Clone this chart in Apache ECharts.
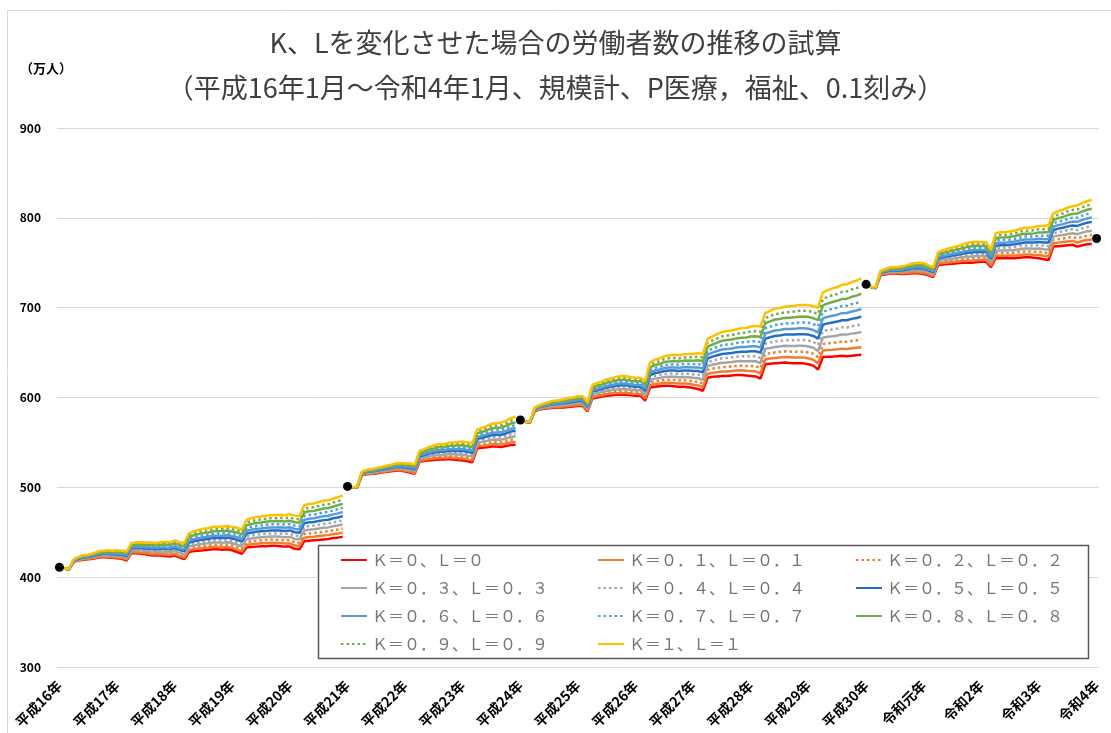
<!DOCTYPE html>
<html>
<head>
<meta charset="utf-8">
<title>K、Lを変化させた場合の労働者数の推移の試算</title>
<script src="https://cdn.jsdelivr.net/npm/echarts@6/dist/echarts.min.js"></script>
<style>
html, body { margin: 0; padding: 0; background: #fff; }
#chart { width: 1111px; height: 733px; }
</style>
</head>
<body>
<div id="chart"></div>
<script>
// 年ラベル（各年1月に表示）
const yearLabels = ['平成16年', '平成17年', '平成18年', '平成19年', '平成20年', '平成21年', '平成22年',
  '平成23年', '平成24年', '平成25年', '平成26年', '平成27年', '平成28年', '平成29年', '平成30年',
  '令和元年', '令和2年', '令和3年', '令和4年'];

const categories = [];
yearLabels.forEach(y => {
  for (let m = 1; m <= 12; m++) categories.push(y + m + '月');
});
categories.length = 217; // 平成16年1月～令和4年1月

// ベンチマーク（黒丸）
const benchmarkMonths = ['平成16年1月', '平成21年1月', '平成24年1月', '平成30年1月', '令和4年1月'];
const benchmarkValues = [411, 501, 575, 726, 777];

// 各系列の区間（ベンチマーク間で線を切る）
const segmentRanges = [[0, 59], [60, 95], [96, 167], [168, 215]];

// 万人, 平成16年1月～令和3年12月
const k0 = [
  411,409.5,408.5,417,418.5,419.5,420,420.5,421.5,422.5,422,421.5,421,420.5,418.5,427,426.5,426,425.5,424.5,424,424,423.5,423,424,422,420,428,429,429.5,430,430.5,431,431,430.5,431,430,428,426,433,433.5,434,434.5,434.5,435,435,434.5,434,434,431.5,431,440,440.5,441,441.5,442,442.5,443.5,444,445,
  501,500,499.5,513.5,514.5,515,515.5,516.5,517,518,518.5,519,517.5,516.5,515,528.5,529.5,530,530.5,531,531,531.5,531,530.5,530,529,528,543.5,544,544.5,545.5,545.5,545,546,547,547.5,
  575,573,572,585,586.5,587.5,588,588.5,589,589,589.5,590,590.5,590.5,584.5,599,600,601,602,602.5,603,603,603,602.5,602,602,596.5,611,612,612.5,613,613,612.5,612,612,611.5,610.5,609.5,607.5,622,623,623.5,624,624,624.5,625,625,624.5,624,623.5,621,637,637.5,638,638.5,639,638.5,638,638,638,637,635.5,631,645,645.5,645.5,646,646.5,646,646.5,647,647.5,
  726,723,721.5,736,737,738,738,737.5,737.5,738,738.5,738,737.5,736,734,747.5,748,748.5,749,749.5,750,750,750,750.5,751,751,745,755,755,755,755,755,755.5,756,756,755.5,755,754,753,768,768.5,769,769.5,770,768,769.5,770.5,771
];
const k01 = [
  411,409.5,408.6,417.3,418.9,420,420.5,421.1,422.2,423.2,422.8,422.3,421.9,421.4,419.5,428.1,427.7,427.3,426.8,425.9,425.4,425.5,425.1,424.6,425.7,423.7,421.8,430.1,431.2,431.8,432.4,432.9,433.5,433.5,433.1,433.6,432.6,430.7,428.7,436.1,436.7,437.3,437.8,437.9,438.4,438.4,438,437.5,437.6,435.2,434.7,444,444.6,445.1,445.7,446.3,446.8,447.9,448.5,449.6,
  501,500,499.6,513.9,515,515.5,516.1,517.1,517.7,518.7,519.3,519.8,518.4,517.5,516,529.7,530.8,531.5,532.1,532.7,532.7,533.3,532.9,532.5,532.1,531.1,530.1,545.6,546.2,546.9,548,548.1,547.7,548.8,550,550.6,
  575,573,572.1,585.4,587,588.1,588.7,589.3,589.8,589.9,590.5,591,591.6,591.6,585.5,600.5,601.6,602.7,603.8,604.4,605,605.1,605.1,604.5,604,604,598.7,613.8,615,615.6,616.3,616.4,616,615.5,615.6,615.2,614.3,613.5,611.6,626.3,627.5,628.2,628.9,629,629.5,630.1,630.2,629.8,629.5,629.1,626.8,642.7,643.4,644.1,644.6,645.2,644.8,644.4,644.5,644.5,643.6,642.1,637.9,652.2,652.9,653.1,653.7,654.4,654,654.7,655.3,656,
  726,723,721.6,736.5,737.6,738.7,738.7,738.3,738.4,739,739.6,739.2,738.7,737.1,735.1,748.9,749.6,750.2,750.8,751.4,752,752.2,752.3,752.8,753.2,753.2,746.9,757.8,757.9,757.9,758,758.1,758.7,759.3,759.3,758.9,758.6,757.7,756.9,771.7,772.4,773,773.7,774.3,772.6,774.2,775.3,775.9
];
const k02 = [
  411,409.5,408.7,417.6,419.3,420.5,421,421.7,422.9,423.9,423.6,423.1,422.8,422.3,420.5,429.2,428.9,428.6,428.1,427.3,426.8,427,426.7,426.2,427.4,425.4,423.6,432.2,433.4,434.1,434.8,435.3,436,436,435.7,436.2,435.2,433.4,431.4,439.2,439.9,440.6,441.1,441.3,441.8,441.8,441.5,441,441.2,438.9,438.4,448,448.7,449.2,449.9,450.6,451.1,452.3,453,454.2,
  501,500,499.7,514.3,515.5,516,516.7,517.7,518.4,519.4,520.1,520.6,519.3,518.5,517,530.9,532.1,533,533.7,534.4,534.4,535.1,534.8,534.5,534.2,533.2,532.2,547.7,548.4,549.3,550.5,550.7,550.4,551.6,553,553.7,
  575,573,572.2,585.8,587.5,588.7,589.4,590.1,590.6,590.8,591.5,592,592.7,592.7,586.5,602,603.2,604.4,605.6,606.3,607,607.2,607.2,606.5,606,606,600.9,616.6,618,618.7,619.6,619.8,619.5,619,619.2,618.9,618.1,617.5,615.7,630.6,632,632.9,633.8,634,634.5,635.2,635.4,635.1,635,634.7,632.6,648.4,649.3,650.2,650.7,651.4,651.1,650.8,651,651,650.2,648.7,644.8,659.4,660.3,660.7,661.4,662.3,662,662.9,663.6,664.5,
  726,723,721.7,737,738.2,739.4,739.4,739.1,739.3,740,740.7,740.4,739.9,738.2,736.2,750.3,751.2,751.9,752.6,753.3,754,754.4,754.6,755.1,755.4,755.4,748.8,760.6,760.8,760.8,761,761.2,761.9,762.6,762.6,762.3,762.2,761.4,760.8,775.4,776.3,777,777.9,778.6,777.2,778.9,780.1,780.8
];
const k03 = [
  411,409.5,408.8,417.9,419.7,421,421.5,422.3,423.6,424.6,424.4,423.9,423.7,423.2,421.5,430.3,430.1,429.9,429.4,428.7,428.2,428.5,428.3,427.8,429.1,427.1,425.4,434.3,435.6,436.4,437.2,437.7,438.5,438.5,438.3,438.8,437.8,436.1,434.1,442.3,443.1,443.9,444.4,444.7,445.2,445.2,445,444.5,444.8,442.6,442.1,452,452.8,453.3,454.1,454.9,455.4,456.7,457.5,458.8,
  501,500,499.8,514.7,516,516.5,517.3,518.3,519.1,520.1,520.9,521.4,520.2,519.5,518,532.1,533.4,534.5,535.3,536.1,536.1,536.9,536.7,536.5,536.3,535.3,534.3,549.8,550.6,551.7,553,553.3,553.1,554.4,556,556.8,
  575,573,572.3,586.2,588,589.3,590.1,590.9,591.4,591.7,592.5,593,593.8,593.8,587.5,603.5,604.8,606.1,607.4,608.2,609,609.3,609.3,608.5,608,608,603.1,619.4,621,621.8,622.9,623.2,623,622.5,622.8,622.6,621.9,621.5,619.8,634.9,636.5,637.6,638.7,639,639.5,640.3,640.6,640.4,640.5,640.3,638.4,654.1,655.2,656.3,656.8,657.6,657.4,657.2,657.5,657.5,656.8,655.3,651.7,666.6,667.7,668.3,669.1,670.2,670,671.1,671.9,673,
  726,723,721.8,737.5,738.8,740.1,740.1,739.9,740.2,741,741.8,741.6,741.1,739.3,737.3,751.7,752.8,753.6,754.4,755.2,756,756.6,756.9,757.4,757.6,757.6,750.7,763.4,763.7,763.7,764,764.3,765.1,765.9,765.9,765.7,765.8,765.1,764.7,779.1,780.2,781,782.1,782.9,781.8,783.6,784.9,785.7
];
const k04 = [
  411,409.5,408.9,418.2,420.1,421.5,422,422.9,424.3,425.3,425.2,424.7,424.6,424.1,422.5,431.4,431.3,431.2,430.7,430.1,429.6,430,429.9,429.4,430.8,428.8,427.2,436.4,437.8,438.7,439.6,440.1,441,441,440.9,441.4,440.4,438.8,436.8,445.4,446.3,447.2,447.7,448.1,448.6,448.6,448.5,448,448.4,446.3,445.8,456,456.9,457.4,458.3,459.2,459.7,461.1,462,463.4,
  501,500,499.9,515.1,516.5,517,517.9,518.9,519.8,520.8,521.7,522.2,521.1,520.5,519,533.3,534.7,536,536.9,537.8,537.8,538.7,538.6,538.5,538.4,537.4,536.4,551.9,552.8,554.1,555.5,555.9,555.8,557.2,559,559.9,
  575,573,572.4,586.6,588.5,589.9,590.8,591.7,592.2,592.6,593.5,594,594.9,594.9,588.5,605,606.4,607.8,609.2,610.1,611,611.4,611.4,610.5,610,610,605.3,622.2,624,624.9,626.2,626.6,626.5,626,626.4,626.3,625.7,625.5,623.9,639.2,641,642.3,643.6,644,644.5,645.4,645.8,645.7,646,645.9,644.2,659.8,661.1,662.4,662.9,663.8,663.7,663.6,664,664,663.4,661.9,658.6,673.8,675.1,675.9,676.8,678.1,678,679.3,680.2,681.5,
  726,723,721.9,738,739.4,740.8,740.8,740.7,741.1,742,742.9,742.8,742.3,740.4,738.4,753.1,754.4,755.3,756.2,757.1,758,758.8,759.2,759.7,759.8,759.8,752.6,766.2,766.6,766.6,767,767.4,768.3,769.2,769.2,769.1,769.4,768.8,768.6,782.8,784.1,785,786.3,787.2,786.4,788.3,789.7,790.6
];
const k05 = [
  411,409.5,409,418.5,420.5,422,422.5,423.5,425,426,426,425.5,425.5,425,423.5,432.5,432.5,432.5,432,431.5,431,431.5,431.5,431,432.5,430.5,429,438.5,440,441,442,442.5,443.5,443.5,443.5,444,443,441.5,439.5,448.5,449.5,450.5,451,451.5,452,452,452,451.5,452,450,449.5,460,461,461.5,462.5,463.5,464,465.5,466.5,468,
  501,500,500,515.5,517,517.5,518.5,519.5,520.5,521.5,522.5,523,522,521.5,520,534.5,536,537.5,538.5,539.5,539.5,540.5,540.5,540.5,540.5,539.5,538.5,554,555,556.5,558,558.5,558.5,560,562,563,
  575,573,572.5,587,589,590.5,591.5,592.5,593,593.5,594.5,595,596,596,589.5,606.5,608,609.5,611,612,613,613.5,613.5,612.5,612,612,607.5,625,627,628,629.5,630,630,629.5,630,630,629.5,629.5,628,643.5,645.5,647,648.5,649,649.5,650.5,651,651,651.5,651.5,650,665.5,667,668.5,669,670,670,670,670.5,670.5,670,668.5,665.5,681,682.5,683.5,684.5,686,686,687.5,688.5,690,
  726,723,722,738.5,740,741.5,741.5,741.5,742,743,744,744,743.5,741.5,739.5,754.5,756,757,758,759,760,761,761.5,762,762,762,754.5,769,769.5,769.5,770,770.5,771.5,772.5,772.5,772.5,773,772.5,772.5,786.5,788,789,790.5,791.5,791,793,794.5,795.5
];
const k06 = [
  411,409.5,409.1,418.8,420.9,422.5,423,424.1,425.7,426.7,426.8,426.3,426.4,425.9,424.5,433.6,433.7,433.8,433.3,432.9,432.4,433,433.1,432.6,434.2,432.2,430.8,440.6,442.2,443.3,444.4,444.9,446,446,446.1,446.6,445.6,444.2,442.2,451.6,452.7,453.8,454.3,454.9,455.4,455.4,455.5,455,455.6,453.7,453.2,464,465.1,465.6,466.7,467.8,468.3,469.9,471,472.6,
  501,500,500.1,515.9,517.5,518,519.1,520.1,521.2,522.2,523.3,523.8,522.9,522.5,521,535.7,537.3,539,540.1,541.2,541.2,542.3,542.4,542.5,542.6,541.6,540.6,556.1,557.2,558.9,560.5,561.1,561.2,562.8,565,566.1,
  575,573,572.6,587.4,589.5,591.1,592.2,593.3,593.8,594.4,595.5,596,597.1,597.1,590.5,608,609.6,611.2,612.8,613.9,615,615.6,615.6,614.5,614,614,609.7,627.8,630,631.1,632.8,633.4,633.5,633,633.6,633.7,633.3,633.5,632.1,647.8,650,651.7,653.4,654,654.5,655.6,656.2,656.3,657,657.1,655.8,671.2,672.9,674.6,675.1,676.2,676.3,676.4,677,677,676.6,675.1,672.4,688.2,689.9,691.1,692.2,693.9,694,695.7,696.8,698.5,
  726,723,722.1,739,740.6,742.2,742.2,742.3,742.9,744,745.1,745.2,744.7,742.6,740.6,755.9,757.6,758.7,759.8,760.9,762,763.2,763.8,764.3,764.2,764.2,756.4,771.8,772.4,772.4,773,773.6,774.7,775.8,775.8,775.9,776.6,776.2,776.4,790.2,791.9,793,794.7,795.8,795.6,797.7,799.3,800.4
];
const k07 = [
  411,409.5,409.2,419.1,421.3,423,423.5,424.7,426.4,427.4,427.6,427.1,427.3,426.8,425.5,434.7,434.9,435.1,434.6,434.3,433.8,434.5,434.7,434.2,435.9,433.9,432.6,442.7,444.4,445.6,446.8,447.3,448.5,448.5,448.7,449.2,448.2,446.9,444.9,454.7,455.9,457.1,457.6,458.3,458.8,458.8,459,458.5,459.2,457.4,456.9,468,469.2,469.7,470.9,472.1,472.6,474.3,475.5,477.2,
  501,500,500.2,516.3,518,518.5,519.7,520.7,521.9,522.9,524.1,524.6,523.8,523.5,522,536.9,538.6,540.5,541.7,542.9,542.9,544.1,544.3,544.5,544.7,543.7,542.7,558.2,559.4,561.3,563,563.7,563.9,565.6,568,569.2,
  575,573,572.7,587.8,590,591.7,592.9,594.1,594.6,595.3,596.5,597,598.2,598.2,591.5,609.5,611.2,612.9,614.6,615.8,617,617.7,617.7,616.5,616,616,611.9,630.6,633,634.2,636.1,636.8,637,636.5,637.2,637.4,637.1,637.5,636.2,652.1,654.5,656.4,658.3,659,659.5,660.7,661.4,661.6,662.5,662.7,661.6,676.9,678.8,680.7,681.2,682.4,682.6,682.8,683.5,683.5,683.2,681.7,679.3,695.4,697.3,698.7,699.9,701.8,702,703.9,705.1,707,
  726,723,722.2,739.5,741.2,742.9,742.9,743.1,743.8,745,746.2,746.4,745.9,743.7,741.7,757.3,759.2,760.4,761.6,762.8,764,765.4,766.1,766.6,766.4,766.4,758.3,774.6,775.3,775.3,776,776.7,777.9,779.1,779.1,779.3,780.2,779.9,780.3,793.9,795.8,797,798.9,800.1,800.2,802.4,804.1,805.3
];
const k08 = [
  411,409.5,409.3,419.4,421.7,423.5,424,425.3,427.1,428.1,428.4,427.9,428.2,427.7,426.5,435.8,436.1,436.4,435.9,435.7,435.2,436,436.3,435.8,437.6,435.6,434.4,444.8,446.6,447.9,449.2,449.7,451,451,451.3,451.8,450.8,449.6,447.6,457.8,459.1,460.4,460.9,461.7,462.2,462.2,462.5,462,462.8,461.1,460.6,472,473.3,473.8,475.1,476.4,476.9,478.7,480,481.8,
  501,500,500.3,516.7,518.5,519,520.3,521.3,522.6,523.6,524.9,525.4,524.7,524.5,523,538.1,539.9,542,543.3,544.6,544.6,545.9,546.2,546.5,546.8,545.8,544.8,560.3,561.6,563.7,565.5,566.3,566.6,568.4,571,572.3,
  575,573,572.8,588.2,590.5,592.3,593.6,594.9,595.4,596.2,597.5,598,599.3,599.3,592.5,611,612.8,614.6,616.4,617.7,619,619.8,619.8,618.5,618,618,614.1,633.4,636,637.3,639.4,640.2,640.5,640,640.8,641.1,640.9,641.5,640.3,656.4,659,661.1,663.2,664,664.5,665.8,666.6,666.9,668,668.3,667.4,682.6,684.7,686.8,687.3,688.6,688.9,689.2,690,690,689.8,688.3,686.2,702.6,704.7,706.3,707.6,709.7,710,712.1,713.4,715.5,
  726,723,722.3,740,741.8,743.6,743.6,743.9,744.7,746,747.3,747.6,747.1,744.8,742.8,758.7,760.8,762.1,763.4,764.7,766,767.6,768.4,768.9,768.6,768.6,760.2,777.4,778.2,778.2,779,779.8,781.1,782.4,782.4,782.7,783.8,783.6,784.2,797.6,799.7,801,803.1,804.4,804.8,807.1,808.9,810.2
];
const k09 = [
  411,409.5,409.4,419.7,422.1,424,424.5,425.9,427.8,428.8,429.2,428.7,429.1,428.6,427.5,436.9,437.3,437.7,437.2,437.1,436.6,437.5,437.9,437.4,439.3,437.3,436.2,446.9,448.8,450.2,451.6,452.1,453.5,453.5,453.9,454.4,453.4,452.3,450.3,460.9,462.3,463.7,464.2,465.1,465.6,465.6,466,465.5,466.4,464.8,464.3,476,477.4,477.9,479.3,480.7,481.2,483.1,484.5,486.4,
  501,500,500.4,517.1,519,519.5,520.9,521.9,523.3,524.3,525.7,526.2,525.6,525.5,524,539.3,541.2,543.5,544.9,546.3,546.3,547.7,548.1,548.5,548.9,547.9,546.9,562.4,563.8,566.1,568,568.9,569.3,571.2,574,575.4,
  575,573,572.9,588.6,591,592.9,594.3,595.7,596.2,597.1,598.5,599,600.4,600.4,593.5,612.5,614.4,616.3,618.2,619.6,621,621.9,621.9,620.5,620,620,616.3,636.2,639,640.4,642.7,643.6,644,643.5,644.4,644.8,644.7,645.5,644.4,660.7,663.5,665.8,668.1,669,669.5,670.9,671.8,672.2,673.5,673.9,673.2,688.3,690.6,692.9,693.4,694.8,695.2,695.6,696.5,696.5,696.4,694.9,693.1,709.8,712.1,713.9,715.3,717.6,718,720.3,721.7,724,
  726,723,722.4,740.5,742.4,744.3,744.3,744.7,745.6,747,748.4,748.8,748.3,745.9,743.9,760.1,762.4,763.8,765.2,766.6,768,769.8,770.7,771.2,770.8,770.8,762.1,780.2,781.1,781.1,782,782.9,784.3,785.7,785.7,786.1,787.4,787.3,788.1,801.3,803.6,805,807.3,808.7,809.4,811.8,813.7,815.1
];
const k1 = [
  411,409.5,409.5,420,422.5,424.5,425,426.5,428.5,429.5,430,429.5,430,429.5,428.5,438,438.5,439,438.5,438.5,438,439,439.5,439,441,439,438,449,451,452.5,454,454.5,456,456,456.5,457,456,455,453,464,465.5,467,467.5,468.5,469,469,469.5,469,470,468.5,468,480,481.5,482,483.5,485,485.5,487.5,489,491,
  501,500,500.5,517.5,519.5,520,521.5,522.5,524,525,526.5,527,526.5,526.5,525,540.5,542.5,545,546.5,548,548,549.5,550,550.5,551,550,549,564.5,566,568.5,570.5,571.5,572,574,577,578.5,
  575,573,573,589,591.5,593.5,595,596.5,597,598,599.5,600,601.5,601.5,594.5,614,616,618,620,621.5,623,624,624,622.5,622,622,618.5,639,642,643.5,646,647,647.5,647,648,648.5,648.5,649.5,648.5,665,668,670.5,673,674,674.5,676,677,677.5,679,679.5,679,694,696.5,699,699.5,701,701.5,702,703,703,703,701.5,700,717,719.5,721.5,723,725.5,726,728.5,730,732.5,
  726,723,722.5,741,743,745,745,745.5,746.5,748,749.5,750,749.5,747,745,761.5,764,765.5,767,768.5,770,772,773,773.5,773,773,764,783,784,784,785,786,787.5,789,789,789.5,791,791,792,805,807.5,809,811.5,813,814,816.5,818.5,820
];

const seriesDefs = [
  { name: 'Ｋ＝０、Ｌ＝０', values: k0, color: '#FF0000', dotted: false },
  { name: 'Ｋ＝０．１、Ｌ＝０．１', values: k01, color: '#ED7D31', dotted: false },
  { name: 'Ｋ＝０．２、Ｌ＝０．２', values: k02, color: '#ED7D31', dotted: true },
  { name: 'Ｋ＝０．３、Ｌ＝０．３', values: k03, color: '#A5A5A5', dotted: false },
  { name: 'Ｋ＝０．４、Ｌ＝０．４', values: k04, color: '#A5A5A5', dotted: true },
  { name: 'Ｋ＝０．５、Ｌ＝０．５', values: k05, color: '#1F6FC5', dotted: false },
  { name: 'Ｋ＝０．６、Ｌ＝０．６', values: k06, color: '#5B9BD5', dotted: false },
  { name: 'Ｋ＝０．７、Ｌ＝０．７', values: k07, color: '#4A9FE0', dotted: true },
  { name: 'Ｋ＝０．８、Ｌ＝０．８', values: k08, color: '#70AD47', dotted: false },
  { name: 'Ｋ＝０．９、Ｌ＝０．９', values: k09, color: '#70AD47', dotted: true },
  { name: 'Ｋ＝１、Ｌ＝１', values: k1, color: '#FFC000', dotted: false }
];
const names = seriesDefs.map(d => d.name);

const series = [];
seriesDefs.forEach(d => {
  segmentRanges.forEach(([s, e]) => {
    series.push({
      name: d.name,
      type: 'line',
      symbol: 'none',
      showSymbol: false,
      connectNulls: false,
      animation: false,
      data: categories.map((c, i) => (i >= s && i <= e) ? d.values[i] : null),
      itemStyle: { color: d.color },
      lineStyle: { color: d.color, width: 2.5, type: d.dotted ? [2.5, 3] : 'solid', cap: 'butt' }
    });
  });
});
series.push({
  type: 'scatter',
  data: benchmarkMonths.map((m, j) => [m, benchmarkValues[j]]),
  symbolSize: 9,
  itemStyle: { color: '#000', opacity: 1 },
  z: 5,
  animation: false
});

const font = 'Noto Sans CJK JP';
const legendBase = {
  orient: 'vertical',
  top: 552,
  padding: 0,
  itemGap: 12,
  itemWidth: 26,
  itemHeight: 14,
  itemStyle: { opacity: 0 },
  textStyle: { fontSize: 16, lineHeight: 16, color: '#767676', fontFamily: font }
};

const chart = echarts.init(document.getElementById('chart'));
chart.setOption({
  backgroundColor: '#fff',
  animation: false,
  textStyle: { fontFamily: font },
  title: [
    {
      text: 'K、Lを変化させた場合の労働者数の推移の試算\n（平成16年1月～令和4年1月、規模計、P医療，福祉、0.1刻み）',
      left: 'center',
      top: 20,
      padding: [0, 0, 0, 16],
      textStyle: { fontSize: 27, fontWeight: 'normal', color: '#404040', lineHeight: 45, fontFamily: font }
    },
    {
      text: '（万人）',
      left: 20,
      top: 60,
      padding: 0,
      textStyle: { fontSize: 13, fontWeight: 'bold', color: '#000', lineHeight: 16, fontFamily: font }
    }
  ],
  legend: [
    Object.assign({}, legendBase, { left: 340, data: [names[0], names[3], names[6], names[9]] }),
    Object.assign({}, legendBase, { left: 597, data: [names[1], names[4], names[7], names[10]] }),
    Object.assign({}, legendBase, { left: 855, data: [names[2], names[5], names[8]] })
  ],
  graphic: [
    {
      type: 'rect', silent: true, z: 0,
      shape: { x: 7.5, y: 10.5, width: 1110, height: 730 },
      style: { fill: 'none', stroke: '#d9d9d9', lineWidth: 1 }
    },
    {
      type: 'rect', silent: true, z: 1,
      shape: { x: 318.5, y: 545.5, width: 770, height: 113 },
      style: { fill: '#fff', stroke: '#595959', lineWidth: 1.5 }
    }
  ],
  grid: { left: 57, right: 12, top: 128, bottom: 66 },
  xAxis: {
    type: 'category',
    data: categories,
    boundaryGap: true,
    axisLine: { show: false },
    axisTick: { show: false },
    splitLine: { show: false },
    axisLabel: {
      interval: (idx) => idx % 12 === 0,
      formatter: (v) => v.replace(/\d+月$/, ''),
      rotate: 45,
      margin: 16,
      fontSize: 14,
      fontWeight: 'bold',
      color: '#000',
      fontFamily: font
    }
  },
  yAxis: {
    type: 'value',
    min: 300,
    max: 900,
    interval: 100,
    axisLine: { show: false },
    axisTick: { show: false },
    axisLabel: { fontSize: 12, fontWeight: 'bold', color: '#000', margin: 16, fontFamily: font },
    splitLine: { lineStyle: { color: '#d9d9d9', width: 1 } }
  },
  series: series
});
</script>
</body>
</html>
